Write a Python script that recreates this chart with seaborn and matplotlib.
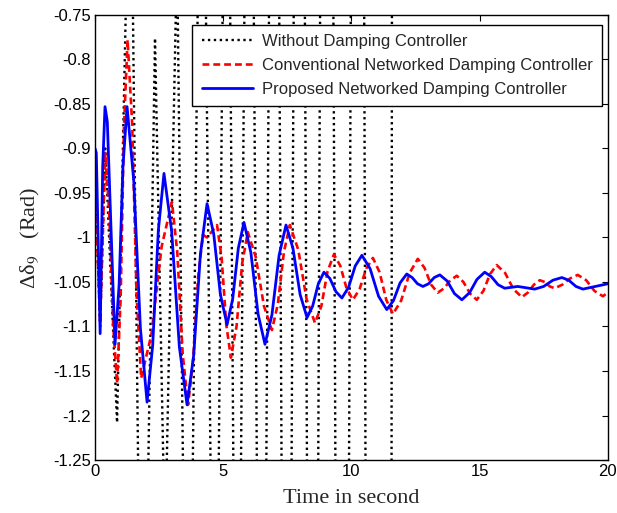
"""
Rotor angle deviation of generator 9 under three controller settings
"""

import numpy as np
import pandas as pd
import matplotlib
matplotlib.use('Agg')
import matplotlib.pyplot as plt
import seaborn as sns

# Values (black trace goes far off scale)
time_without = [0, 0.2, 0.4, 0.86, 1.38, 1.85, 2.34, 2.73, 3.2, 3.63, 4.17, 4.68,
                5.14, 5.54, 6.02, 6.51, 7.0, 7.48, 7.97, 8.5, 9.03, 9.66, 10.28,
                10.78, 11.5, 11.66]
delta_without = [-0.94, -1.1, -0.9, -1.208, -0.5, -1.675, -0.776, -1.35, -0.68, -1.75,
                 -0.3, -1.75, -0.2, -1.85, 0.0, -2.1, 0.3, -2.4, 0.6, -2.7, 1.0,
                 -3.1, 1.5, -3.6, -3.6, 2.0]

time_conv = [0, 0.2, 0.4, 0.55, 0.71, 0.86, 1.0, 1.13, 1.27, 1.45, 1.62, 1.8,
             2.2, 2.6, 3.0, 3.21, 3.42, 3.63, 3.82, 4.02, 4.21, 4.37, 4.76,
             4.94, 5.12, 5.30, 5.52, 5.74, 5.96, 6.27, 6.59, 6.90, 7.13, 7.37,
             7.60, 7.93, 8.25, 8.58, 8.83, 9.07, 9.32, 9.57, 9.81, 10.06, 10.32,
             10.58, 10.84, 11.1, 11.36, 11.62, 11.94, 12.27, 12.59, 12.85, 13.11,
             13.37, 13.62, 13.86, 14.11, 14.37, 14.63, 14.89, 15.15, 15.41, 15.67,
             16.0, 16.32, 16.65, 16.88, 17.12, 17.35, 17.54, 17.74, 17.93, 18.23,
             18.53, 18.83, 19.16, 19.48, 19.81, 20]
delta_conv = [-0.94, -1.096, -0.905, -0.970, -1.099, -1.164, -1.068, -0.875, -0.778,
              -0.873, -1.063, -1.158, -1.109, -1.010, -0.960, -1.017, -1.131, -1.188,
              -1.140, -1.045, -0.997, -1.0, -0.986, -1.023, -1.098, -1.135, -1.100,
              -1.029, -0.994, -1.022, -1.077, -1.104, -1.075, -1.016, -0.986, -1.014,
              -1.069, -1.096, -1.077, -1.038, -1.019, -1.032, -1.057, -1.070, -1.058,
              -1.035, -1.023, -1.039, -1.070, -1.086, -1.071, -1.040, -1.024, -1.034,
              -1.053, -1.062, -1.057, -1.048, -1.043, -1.050, -1.063, -1.070, -1.060,
              -1.041, -1.031, -1.040, -1.058, -1.067, -1.062, -1.053, -1.048, -1.050,
              -1.055, -1.057, -1.053, -1.046, -1.042, -1.048, -1.060, -1.066, -1.062]

time_prop = [0, 0.05, 0.2, 0.3, 0.39, 0.48, 0.78, 0.94, 1.09, 1.25, 1.51, 1.77,
             2.03, 2.25, 2.47, 2.69, 2.99, 3.29, 3.59, 3.85, 4.11, 4.37, 4.63,
             4.89, 5.15, 5.37, 5.59, 5.81, 6.08, 6.36, 6.63, 6.90, 7.18, 7.45,
             7.72, 8.0, 8.27, 8.49, 8.71, 8.93, 9.16, 9.40, 9.63, 9.89, 10.15,
             10.41, 10.73, 11.06, 11.38, 11.64, 11.9, 12.16, 12.37, 12.58, 12.79,
             13.01, 13.23, 13.45, 13.74, 14.02, 14.31, 14.61, 14.9, 15.2, 15.46,
             15.72, 15.98, 16.49, 17.15, 17.5, 17.86, 18.21, 18.48, 18.76, 19.03, 20]
delta_prop = [-0.90, -0.905, -1.108, -0.92, -0.853, -0.87, -1.12, -1.053, -0.920,
              -0.853, -0.936, -1.102, -1.185, -1.121, -0.992, -0.928, -0.993, -1.123,
              -1.188, -1.132, -1.019, -0.962, -0.996, -1.064, -1.098, -1.069, -1.012,
              -0.983, -1.017, -1.086, -1.12, -1.087, -1.020, -0.986, -1.012, -1.064,
              -1.09, -1.077, -1.052, -1.039, -1.046, -1.061, -1.068, -1.056, -1.032,
              -1.020, -1.035, -1.066, -1.081, -1.071, -1.051, -1.041, -1.045, -1.052,
              -1.055, -1.052, -1.045, -1.042, -1.049, -1.063, -1.070, -1.062, -1.047,
              -1.039, -1.044, -1.053, -1.057, -1.055, -1.058, -1.055, -1.048, -1.045,
              -1.048, -1.055, -1.058, -1.052]

labels = ['Without Damping Controller',
          'Conventional Networked Damping Controller',
          'Proposed Networked Damping Controller']

y_ticks = [-1.25, -1.2, -1.15, -1.1, -1.05, -1, -0.95, -0.9, -0.85, -0.8, -0.75]
y_tick_labels = ['-1.25', '-1.2', '-1.15', '-1.1', '-1.05', '-1', '-0.95', '-0.9',
                 '-0.85', '-0.8', '-0.75']
x_ticks = [0, 5, 10, 15, 20]

sns.set_theme(style='white')
plt.rcParams['font.family'] = ['Liberation Sans', 'DejaVu Sans']
plt.rcParams['mathtext.fontset'] = 'stix'

fig = plt.figure(figsize=(6.17, 5.13), dpi=100)
ax = fig.add_axes([0.154, 0.1033, 0.831, 0.8675])

df_without = pd.DataFrame({'t': time_without, 'v': delta_without})
df_conv = pd.DataFrame({'t': time_conv, 'v': delta_conv})
df_prop = pd.DataFrame({'t': time_prop, 'v': delta_prop})

sns.lineplot(data=df_without, x='t', y='v', ax=ax, color='black', lw=1.7,
             estimator=None, sort=False, label=labels[0])
sns.lineplot(data=df_conv, x='t', y='v', ax=ax, color='#ff0000', lw=1.9,
             estimator=None, sort=False, label=labels[1])
sns.lineplot(data=df_prop, x='t', y='v', ax=ax, color='#0000ff', lw=2.0,
             estimator=None, sort=False, label=labels[2])

lines = ax.get_lines()
lines[0].set_linestyle((0, (1, 1.5)))
lines[1].set_linestyle((0, (2.6, 1.5)))

ax.set_xlim(0, 20)
ax.set_ylim(-1.25, -0.75)
ax.set_xticks(x_ticks)
ax.set_xticklabels([str(t) for t in x_ticks])
ax.set_yticks(y_ticks)
ax.set_yticklabels(y_tick_labels)
ax.tick_params(direction='in', length=4, width=0.8, top=True, right=True,
               labelsize=12, colors='black', pad=3)

for side in ['top', 'right', 'bottom', 'left']:
    ax.spines[side].set_visible(True)
    ax.spines[side].set_color('black')
    ax.spines[side].set_linewidth(1.0)

ax.set_xlabel('Time in second', fontsize=16, family='Liberation Serif', labelpad=7)
ax.set_ylabel('Δδ$_9$   (Rad)', fontsize=16, family='Liberation Serif', labelpad=8)

leg = ax.legend(loc='upper right', bbox_to_anchor=(0.988, 0.978), borderaxespad=0,
                fontsize=12, frameon=True, fancybox=False, framealpha=1,
                handlelength=3.1, handletextpad=0.5, labelspacing=0.55,
                borderpad=0.55)
leg.get_frame().set_edgecolor('black')
leg.get_frame().set_linewidth(1.0)

fig.savefig('out.png', dpi=100)
